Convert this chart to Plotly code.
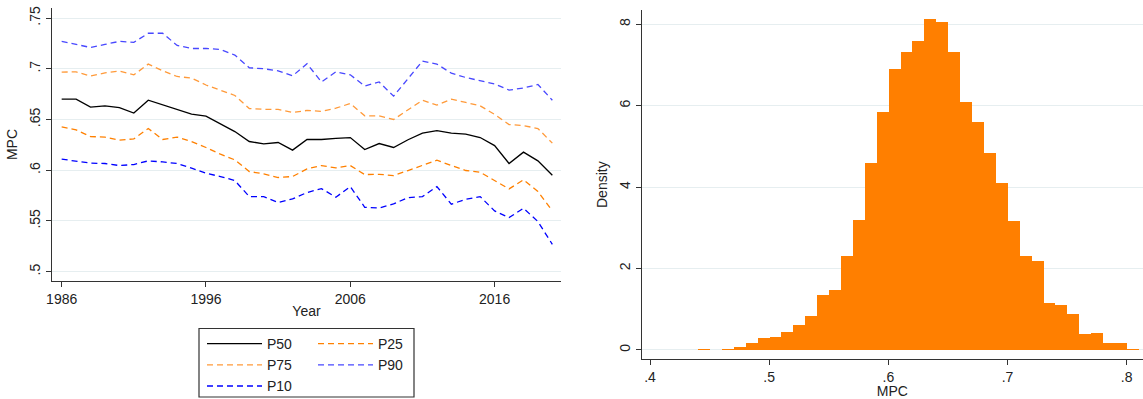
import plotly.graph_objects as go

years = list(range(1986, 2021))

p90 = [0.727, 0.724, 0.721, 0.724, 0.727, 0.726, 0.735, 0.735, 0.723, 0.720,
       0.720, 0.719, 0.7135, 0.701, 0.700, 0.698, 0.693, 0.705, 0.687, 0.697,
       0.694, 0.683, 0.687, 0.673, 0.690, 0.7076, 0.7046, 0.6957, 0.6914, 0.688,
       0.685, 0.679, 0.681, 0.6845, 0.669]
p75 = [0.6967, 0.697, 0.6928, 0.696, 0.6977, 0.694, 0.7046, 0.698, 0.6924, 0.6908,
       0.684, 0.6786, 0.6737, 0.6608, 0.660, 0.660, 0.6569, 0.6589, 0.658, 0.6611,
       0.6658, 0.6536, 0.6536, 0.650, 0.6595, 0.669, 0.6642, 0.670, 0.6668, 0.6635,
       0.655, 0.645, 0.644, 0.6411, 0.6267]
p50 = [0.670, 0.670, 0.6622, 0.6635, 0.6618, 0.6563, 0.669, 0.6645, 0.6605, 0.6553,
       0.6533, 0.6457, 0.6381, 0.6283, 0.626, 0.6273, 0.6198, 0.6303, 0.6303, 0.6313,
       0.6322, 0.6204, 0.6263, 0.6224, 0.630, 0.6365, 0.6391, 0.6365, 0.6355, 0.6322,
       0.6243, 0.6066, 0.6178, 0.6092, 0.5951]
p25 = [0.6428, 0.6398, 0.6332, 0.6326, 0.6296, 0.6309, 0.6411, 0.6303, 0.6326, 0.6283,
       0.6224, 0.6158, 0.6102, 0.5987, 0.5964, 0.5928, 0.5938, 0.6013, 0.6046, 0.6023,
       0.6046, 0.5957, 0.596, 0.5947, 0.5997, 0.6046, 0.6099, 0.6046, 0.5997, 0.598,
       0.5898, 0.5816, 0.5905, 0.579, 0.5599]
p10 = [0.6109, 0.6092, 0.607, 0.6066, 0.6046, 0.6056, 0.6092, 0.6082, 0.6066, 0.602,
       0.597, 0.5938, 0.5898, 0.574, 0.574, 0.5681, 0.5717, 0.578, 0.5819, 0.5734,
       0.5839, 0.5635, 0.5628, 0.5668, 0.573, 0.574, 0.5839, 0.5665, 0.5714, 0.574,
       0.5599, 0.5533, 0.5625, 0.5494, 0.527]

left_yticks = [0.5, 0.55, 0.6, 0.65, 0.7, 0.75]
left_yticktext = [".5", ".55", ".6", ".65", ".7", ".75"]
left_xticks = [1986, 1996, 2006, 2016]

bin_left_edges = [0.44, 0.45, 0.46, 0.47, 0.48, 0.49, 0.50, 0.51, 0.52, 0.53,
                  0.54, 0.55, 0.56, 0.57, 0.58, 0.59, 0.60, 0.61, 0.62, 0.63,
                  0.64, 0.65, 0.66, 0.67, 0.68, 0.69, 0.70, 0.71, 0.72, 0.73,
                  0.74, 0.75, 0.76, 0.77, 0.78, 0.79, 0.80]
density = [0.02, 0.0, 0.02, 0.07, 0.18, 0.29, 0.31, 0.43, 0.62, 0.84,
           1.36, 1.47, 2.30, 3.20, 4.60, 5.85, 6.90, 7.31, 7.59, 8.13,
           8.06, 7.32, 6.10, 5.60, 4.84, 4.09, 3.17, 2.31, 2.19, 1.16,
           1.11, 0.88, 0.38, 0.42, 0.16, 0.18, 0.02]
bin_width = 0.01
right_xticks = [0.4, 0.5, 0.6, 0.7, 0.8]
right_xticktext = [".4", ".5", ".6", ".7", ".8"]
right_yticks = [0, 2, 4, 6, 8]

FONT = "Liberation Sans, Arial, Helvetica, sans-serif"
W, H = 1143, 399
DASH = "6px,4px"

series = [
    ("P50", p50, "#000000", "solid", "legend"),
    ("P25", p25, "#ff8000", DASH, "legend2"),
    ("P75", p75, "#ff9a3a", DASH, "legend"),
    ("P90", p90, "#4848ff", DASH, "legend2"),
    ("P10", p10, "#0000ff", DASH, "legend"),
]

fig = go.Figure()
for name, vals, color, dash, lg in series:
    fig.add_trace(go.Scatter(
        x=years, y=vals, name=name, mode="lines",
        line=dict(color=color, width=1.3, dash=dash),
        xaxis="x", yaxis="y", legend=lg,
    ))

fig.add_trace(go.Bar(
    x=bin_left_edges, y=density, width=bin_width, offset=0,
    marker=dict(color="#ff7f00", line=dict(width=0)),
    xaxis="x2", yaxis="y2", showlegend=False,
))

axis_common = dict(
    showline=True, linecolor="#333333", linewidth=1.2,
    ticks="outside", ticklen=5, tickcolor="#333333", tickwidth=1,
    tickfont=dict(family=FONT, size=14, color="#222222"),
    zeroline=False, mirror=False, automargin=False,
)

legend_common = dict(
    xanchor="left", yanchor="top",
    bgcolor="rgba(0,0,0,0)", borderwidth=0,
    font=dict(family=FONT, size=14, color="#222222"),
    tracegroupgap=0, itemwidth=55,
)

fig.update_layout(
    width=W, height=H,
    margin=dict(l=0, r=0, t=0, b=0, autoexpand=False),
    paper_bgcolor="white", plot_bgcolor="white",
    font=dict(family=FONT, size=14, color="#222222"),
    bargap=0,
    xaxis=dict(
        domain=[52 / W, 561 / W], range=[1985.33, 2020.6],
        tickvals=left_xticks, showgrid=False,
        title=dict(text="Year", font=dict(size=14), standoff=0),
        anchor="y", **axis_common,
    ),
    yaxis=dict(
        domain=[1 - 281 / H, 1 - 8 / H], range=[0.4908, 0.7599],
        tickvals=left_yticks, ticktext=left_yticktext, tickangle=-90,
        showgrid=True, gridcolor="#e6eef0", gridwidth=1,
        title=dict(text="MPC", font=dict(size=14), standoff=6),
        anchor="x", **axis_common,
    ),
    xaxis2=dict(
        domain=[641.7 / W, 1.0], range=[0.393, 0.8137],
        tickvals=right_xticks, ticktext=right_xticktext, showgrid=False,
        title=dict(text="MPC", font=dict(size=14), standoff=0),
        anchor="y2", **axis_common,
    ),
    yaxis2=dict(
        domain=[1 - 359.3 / H, 1 - 10 / H], range=[-0.23, 8.35],
        tickvals=right_yticks, tickangle=-90,
        showgrid=True, gridcolor="#e6eef0", gridwidth=1,
        title=dict(text="Density", font=dict(size=14), standoff=6),
        anchor="x2", **axis_common,
    ),
    legend=dict(x=202 / W, y=1 - 328 / H, **legend_common),
    legend2=dict(x=313 / W, y=1 - 328 / H, **legend_common),
    shapes=[dict(
        type="rect", xref="paper", yref="paper",
        x0=199 / W, x1=414 / W, y0=1 - 397 / H, y1=1 - 328.5 / H,
        line=dict(color="#333333", width=1.2), fillcolor="rgba(0,0,0,0)",
    )],
)

fig.write_html(
    "out.html",
    config={"displayModeBar": False},
    post_script="document.body.style.margin='0';document.body.style.overflow='hidden';",
)
